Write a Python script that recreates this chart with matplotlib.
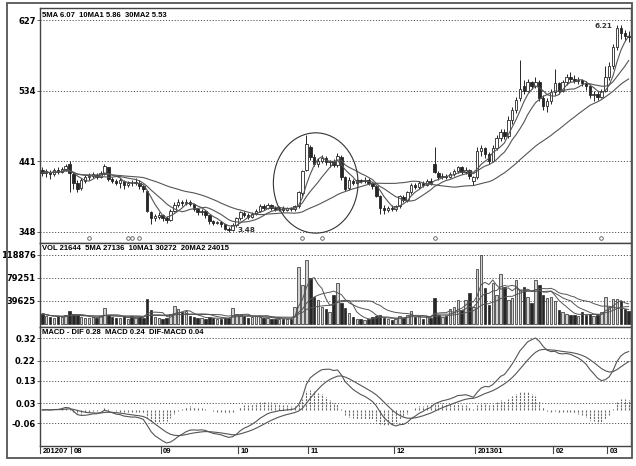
import matplotlib
matplotlib.use('Agg')
import matplotlib.pyplot as plt
import numpy as np
import pandas as pd
from matplotlib.patches import Rectangle, Ellipse
from matplotlib.lines import Line2D
import matplotlib.transforms as mtransforms

opens = [4.30, 4.25, 4.27, 4.24, 4.29, 4.27, 4.31, 4.38,
         4.24, 4.12, 4.06, 4.15, 4.20, 4.22, 4.23, 4.21, 4.25, 4.33, 4.18, 4.15, 4.13, 4.15, 4.10, 4.13, 4.12, 4.13, 4.08, 4.02, 3.74, 3.66, 3.68,
         3.70, 3.66, 3.64, 3.76, 3.84, 3.87, 3.86, 3.88, 3.85, 3.78, 3.74, 3.76, 3.70, 3.62, 3.60, 3.61, 3.58, 3.52, 3.50, 3.57,
         3.66, 3.73, 3.71, 3.68, 3.72, 3.76, 3.82, 3.80, 3.83, 3.80, 3.78, 3.80, 3.77, 3.79, 3.78, 3.82, 3.99, 4.30,
         4.60, 4.47, 4.38, 4.42, 4.45, 4.40, 4.41, 4.36, 4.47, 4.20, 4.06, 4.15, 4.13, 4.16, 4.15, 4.17, 4.12, 4.08, 3.96, 3.80, 3.77, 3.80,
         3.78, 3.82, 3.94, 3.90, 4.00, 4.10, 4.07, 4.12, 4.10, 4.15, 4.38, 4.25, 4.20, 4.22, 4.21, 4.24, 4.28, 4.33, 4.27, 4.30, 4.15,
         4.20, 4.54, 4.58, 4.50, 4.42, 4.58, 4.72, 4.80, 4.74, 4.95, 5.08, 5.24, 5.40, 5.34, 5.45, 5.40, 5.46, 5.24, 5.14, 5.20,
         5.32, 5.44, 5.34, 5.45, 5.52, 5.50, 5.47, 5.48, 5.44, 5.40, 5.28, 5.30, 5.26, 5.34,
         5.52, 5.66, 5.92, 6.16, 6.10, 6.06]
highs = [4.34, 4.31, 4.30, 4.32, 4.33, 4.34, 4.38, 4.41,
         4.27, 4.16, 4.19, 4.23, 4.26, 4.27, 4.26, 4.28, 4.37, 4.34, 4.21, 4.18, 4.19, 4.17, 4.15, 4.17, 4.19, 4.16, 4.10, 4.03, 3.76, 3.72, 3.74,
         3.72, 3.69, 3.78, 3.87, 3.92, 3.90, 3.92, 3.90, 3.86, 3.80, 3.78, 3.77, 3.71, 3.64, 3.63, 3.63, 3.59, 3.54, 3.60, 3.68,
         3.76, 3.76, 3.73, 3.74, 3.78, 3.85, 3.85, 3.86, 3.85, 3.82, 3.82, 3.82, 3.81, 3.81, 3.84, 4.02, 4.30, 4.75,
         4.62, 4.50, 4.46, 4.49, 4.48, 4.43, 4.44, 4.52, 4.49, 4.22, 4.20, 4.18, 4.18, 4.18, 4.20, 4.19, 4.14, 4.10, 3.97, 3.83, 3.82, 3.83,
         3.84, 3.97, 3.97, 4.02, 4.12, 4.13, 4.15, 4.15, 4.18, 4.19, 4.60, 4.28, 4.25, 4.24, 4.27, 4.31, 4.35, 4.35, 4.33, 4.31, 4.22,
         4.60, 4.62, 4.60, 4.53, 4.62, 4.75, 4.84, 4.83, 5.00, 5.12, 5.26, 5.74, 5.48, 5.50, 5.47, 5.52, 5.48, 5.28, 5.24, 5.36,
         5.62, 5.46, 5.48, 5.56, 5.58, 5.54, 5.52, 5.50, 5.47, 5.43, 5.34, 5.34, 5.36, 5.66,
         5.72, 5.96, 6.21, 6.20, 6.14, 6.12]
lows = [4.22, 4.21, 4.18, 4.22, 4.24, 4.25, 4.28, 4.00,
        4.05, 4.00, 4.03, 4.12, 4.17, 4.19, 4.18, 4.19, 4.23, 4.15, 4.12, 4.10, 4.06, 4.05, 4.07, 4.09, 4.10, 4.04, 4.00, 3.74, 3.58, 3.62, 3.65,
        3.63, 3.60, 3.63, 3.74, 3.81, 3.82, 3.83, 3.82, 3.75, 3.71, 3.71, 3.67, 3.59, 3.57, 3.58, 3.55, 3.50, 3.48, 3.49, 3.55,
        3.64, 3.68, 3.65, 3.66, 3.70, 3.74, 3.77, 3.78, 3.77, 3.75, 3.76, 3.74, 3.75, 3.76, 3.76, 3.80, 3.96, 4.28,
        4.43, 4.35, 4.33, 4.39, 4.36, 4.34, 4.33, 4.34, 4.16, 4.02, 4.03, 4.10, 4.11, 4.12, 4.13, 4.10, 4.05, 3.94, 3.72, 3.72, 3.74, 3.75,
        3.76, 3.80, 3.87, 3.88, 3.98, 4.04, 4.05, 4.07, 4.08, 4.10, 4.25, 4.17, 4.18, 4.18, 4.19, 4.22, 4.25, 4.24, 4.24, 4.18, 4.10,
        4.18, 4.48, 4.46, 4.37, 4.40, 4.56, 4.68, 4.70, 4.72, 4.90, 5.05, 5.20, 5.30, 5.32, 5.36, 5.38, 5.20, 5.08, 5.06, 5.16,
        5.28, 5.30, 5.32, 5.42, 5.45, 5.44, 5.43, 5.40, 5.35, 5.24, 5.20, 5.22, 5.24, 5.32,
        5.48, 5.62, 5.88, 6.02, 6.00, 5.98]
closes = [4.26, 4.28, 4.24, 4.29, 4.27, 4.31, 4.35, 4.26,
          4.12, 4.05, 4.16, 4.20, 4.22, 4.24, 4.21, 4.26, 4.35, 4.18, 4.15, 4.13, 4.16, 4.10, 4.13, 4.12, 4.14, 4.08, 4.04, 3.76, 3.66, 3.69, 3.71,
          3.66, 3.64, 3.76, 3.84, 3.88, 3.86, 3.88, 3.85, 3.78, 3.74, 3.76, 3.70, 3.62, 3.60, 3.61, 3.58, 3.52, 3.50, 3.57, 3.66,
          3.74, 3.71, 3.68, 3.72, 3.76, 3.82, 3.80, 3.83, 3.80, 3.78, 3.80, 3.77, 3.79, 3.78, 3.82, 4.00, 4.28, 4.64,
          4.47, 4.38, 4.42, 4.45, 4.40, 4.41, 4.36, 4.48, 4.20, 4.05, 4.16, 4.13, 4.16, 4.15, 4.17, 4.12, 4.08, 3.96, 3.80, 3.77, 3.80, 3.78,
          3.82, 3.95, 3.90, 4.00, 4.10, 4.07, 4.12, 4.10, 4.15, 4.13, 4.27, 4.20, 4.22, 4.21, 4.24, 4.28, 4.33, 4.27, 4.30, 4.22, 4.20,
          4.55, 4.58, 4.50, 4.42, 4.58, 4.72, 4.80, 4.74, 4.96, 5.08, 5.22, 5.36, 5.34, 5.45, 5.40, 5.46, 5.24, 5.14, 5.20, 5.32,
          5.44, 5.34, 5.45, 5.52, 5.50, 5.47, 5.48, 5.44, 5.40, 5.28, 5.30, 5.26, 5.34, 5.52,
          5.66, 5.92, 6.16, 6.10, 6.06, 6.05]
volumes = [18000, 14000, 12000, 11000, 13000, 12000, 15000, 22000,
           17000, 15000, 12000, 11000, 10000, 12000, 11000, 13000, 27000, 16000, 12000, 11000, 10000, 13000, 9000, 14000, 10000, 12000, 11000, 43000, 24000, 12000, 10000,
           9000, 10000, 18000, 31000, 25000, 20000, 22000, 14000, 12000, 10000, 11000, 9000, 12000, 10000, 8000, 9000, 11000, 10000, 27000, 18000,
           15000, 13000, 11000, 12000, 14000, 12000, 10000, 11000, 9000, 8000, 9000, 8000, 9000, 8000, 30000, 98000, 67000, 110000,
           79000, 46000, 41000, 30000, 25000, 20000, 50000, 70000, 36000, 27000, 19000, 12000, 9000, 8000, 7000, 8000, 12000, 14000, 16000, 10000, 8000, 7000,
           9000, 14000, 10000, 16000, 22000, 12000, 14000, 9000, 13000, 11000, 45000, 16000, 12000, 14000, 26000, 30000, 41000, 24000, 41000, 53000, 30000,
           95000, 119000, 62000, 33000, 70000, 50000, 86000, 64000, 41000, 45000, 76000, 58000, 64000, 46000, 36000, 76000, 67000, 50000, 45000, 46000,
           40000, 24000, 20000, 18000, 16000, 15000, 14000, 20000, 15000, 18000, 14000, 16000, 20000, 46000,
           30000, 43000, 43000, 40000, 26000, 21644]

month_labels = ['201207', '08', '09', '10', '11', '12', '201301', '02', '03']
month_starts = [0, 8, 31, 51, 69, 91, 112, 132, 146]
price_ticks = [6.27, 5.34, 4.41, 3.48]
price_tick_labels = ['627', '534', '441', '348']
vol_ticks = [118876, 79251, 39625]
macd_ticks = [0.32, 0.22, 0.13, 0.03, -0.06]
event_idx = [12, 22, 23, 25, 67, 72, 101, 144]

price_title = '5MA 6.07  10MA1 5.86  30MA2 5.53'
vol_title = 'VOL 21644  5MA 27136  10MA1 30272  20MA2 24015'
macd_title = 'MACD - DIF 0.28  MACD 0.24  DIF-MACD 0.04'

W, H = 636, 466
fig = plt.figure(figsize=(W / 100, H / 100), dpi=100)
fig.patch.set_facecolor('white')

def rect(top, bottom):
    return [40 / W, 1 - bottom / H, 591 / W, (bottom - top) / H]

axp = fig.add_axes(rect(8, 243))
axv = fig.add_axes(rect(243, 327))
axm = fig.add_axes(rect(327, 446))

DARK = '#262626'
LINE = '#555555'
GRID = '#555555'
o = np.array(opens); h = np.array(highs); l = np.array(lows); c = np.array(closes)
v = np.array(volumes)
n = len(c)
x = np.arange(n)
up = c >= o

cs = pd.Series(c)
ma5 = cs.rolling(5, min_periods=1).mean()
ma10 = cs.rolling(10, min_periods=1).mean()
ma30 = cs.rolling(30, min_periods=1).mean()
vs = pd.Series(v, dtype=float)
vma5 = vs.rolling(5, min_periods=1).mean()
vma10 = vs.rolling(10, min_periods=1).mean()
vma20 = vs.rolling(20, min_periods=1).mean()
ema12 = cs.ewm(span=12, adjust=False).mean()
ema26 = cs.ewm(span=26, adjust=False).mean()
dif = ema12 - ema26
dea = dif.ewm(span=9, adjust=False).mean()
hist = dif - dea

tick_font = dict(family=['DejaVu Sans'], weight='bold', size=6)
title_font = dict(family=['Liberation Sans Narrow', 'Liberation Sans', 'DejaVu Sans'], weight='bold', size=5.5)

for ax in (axp, axv, axm):
    ax.set_xlim(-0.6, n - 0.4)
    for s in ax.spines.values():
        s.set_color('#444444')
        s.set_linewidth(1.0)
    ax.tick_params(axis='x', bottom=False, labelbottom=False)
    ax.tick_params(axis='y', length=2, width=0.6, color='#444444', pad=1)

# price panel
axp.set_ylim(3.335, 6.428)
axp.vlines(x, l, h, color=DARK, lw=0.7, zorder=2)
body_bot = np.minimum(o, c)
body_h = np.maximum(np.abs(c - o), 0.008)
axp.bar(x, body_h, bottom=body_bot, width=0.64,
        color=np.where(up, 'white', DARK), edgecolor=DARK, linewidth=0.6, zorder=3)
for m in (ma5, ma10, ma30):
    axp.plot(x, m, color=LINE, lw=0.8, zorder=4)
axp.set_yticks(price_ticks)
axp.set_yticklabels(price_tick_labels, **tick_font)
for t in price_ticks:
    axp.axhline(t, color=GRID, lw=0.7, ls=(0, (1.2, 1.8)), zorder=1)
axp.text(0.004, 0.985, price_title, transform=axp.transAxes, ha='left', va='top', **title_font)
axp.add_patch(Ellipse((70.4, 4.125), width=21.8, height=1.32, fill=False, lw=0.8, ec='#333333', zorder=5))
ev_y = 3.40
axp.plot(np.array(event_idx), np.full(len(event_idx), ev_y), 'o', ms=2.6, mfc='white', mec='#555555', mew=0.6, zorder=5)
imax = int(np.argmax(h)); imin = int(np.argmin(l))
axp.text(imax - 1.2, h[imax] - 0.02, '%.2f' % h[imax], ha='right', va='center',
         family=['DejaVu Sans'], size=5.2, weight='bold', color='#333333')
axp.text(imin + 2.2, l[imin] + 0.03, '%.2f' % l[imin], ha='left', va='center',
         family=['DejaVu Sans'], size=5.2, weight='bold', color='#333333')

# volume panel
axv.set_ylim(-5200, 139500)
axv.bar(x, v, width=0.64, color=np.where(up, '#d2d2d2', DARK), edgecolor=DARK, linewidth=0.5, zorder=3)
for m in (vma5, vma10, vma20):
    axv.plot(x, m, color=LINE, lw=0.7, zorder=4)
axv.set_yticks(vol_ticks)
axv.set_yticklabels([str(t) for t in vol_ticks], **tick_font)
for t in vol_ticks:
    axv.axhline(t, color=GRID, lw=0.7, ls=(0, (1.2, 1.8)), zorder=1)
axv.text(0.004, 0.975, vol_title, transform=axv.transAxes, ha='left', va='top', **title_font)

# MACD panel
axm.set_ylim(-0.161, 0.371)
axm.vlines(x, 0, hist, color='#6a6a6a', lw=0.8, ls=(0, (2.0, 0.8)), zorder=2)
axm.plot(x, dif, color=LINE, lw=0.8, zorder=3)
axm.plot(x, dea, color=LINE, lw=0.8, zorder=3)
axm.set_yticks(macd_ticks)
axm.set_yticklabels(['%.2f' % t for t in macd_ticks], **tick_font)
for t in macd_ticks:
    axm.axhline(t, color=GRID, lw=0.7, ls=(0, (1.2, 1.8)), zorder=1)
axm.text(0.004, 0.985, macd_title, transform=axm.transAxes, ha='left', va='top', **title_font)

trans = mtransforms.blended_transform_factory(axm.transData, axm.transAxes)
for lab, st in zip(month_labels, month_starts):
    xs = st - 0.5
    axm.add_line(Line2D([xs, xs], [0, -0.06], transform=trans, color='#444444', lw=0.8, clip_on=False))
    axm.text(xs + 0.6, -0.05, lab, transform=trans, ha='left', va='center', clip_on=False,
             **title_font)

fig.add_artist(Rectangle((7 / W, 1 - 458 / H), (632 - 7) / W, (458 - 3) / H,
                         transform=fig.transFigure, fill=False, lw=1.3, ec='#555555'))

fig.savefig('out.png', dpi=100, facecolor='white')
